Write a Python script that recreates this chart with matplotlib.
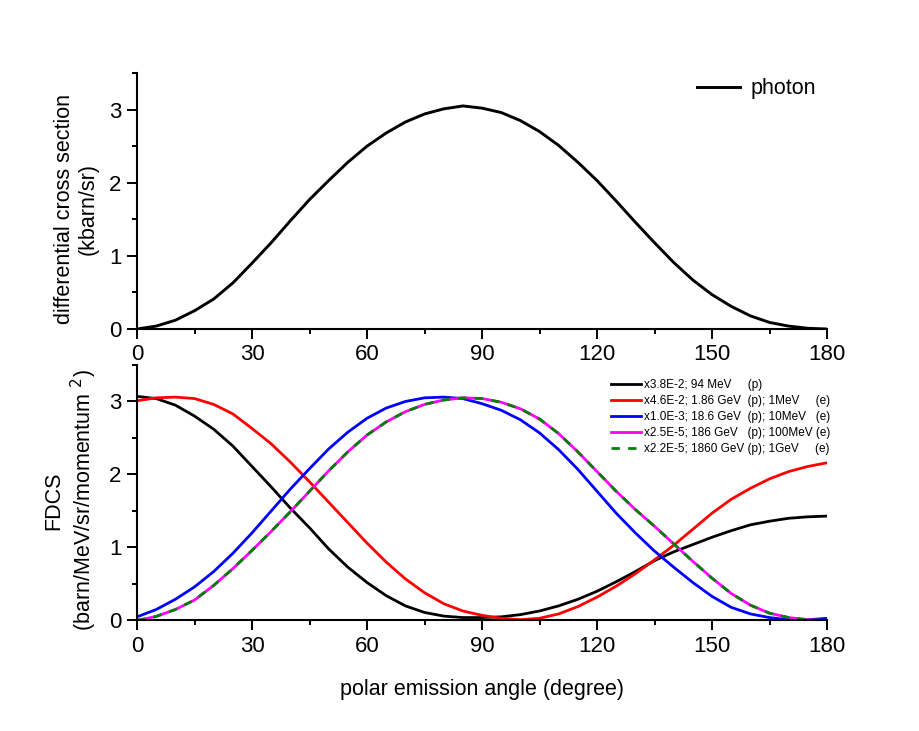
import matplotlib
matplotlib.use('Agg')
import matplotlib.pyplot as plt
from matplotlib.ticker import MultipleLocator

plt.rcParams['font.family'] = ['Liberation Sans', 'DejaVu Sans']

# polar emission angle (degree), values every 5 deg
angle = [0, 5, 10, 15, 20, 25, 30, 35, 40, 45, 50, 55, 60, 65, 70, 75, 80, 85, 90,
         95, 100, 105, 110, 115, 120, 125, 130, 135, 140, 145, 150, 155, 160, 165, 170, 175, 180]

# top panel: photon (kbarn/sr)
photon = [0, 0.04, 0.12, 0.25, 0.41, 0.63, 0.90, 1.18, 1.48, 1.77, 2.03, 2.28, 2.50,
          2.68, 2.83, 2.94, 3.01, 3.05, 3.02,
          2.96, 2.85, 2.70, 2.51, 2.28, 2.03, 1.75, 1.46, 1.18, 0.91, 0.67, 0.47,
          0.31, 0.18, 0.09, 0.04, 0.01, 0]

# bottom panel: scaled FDCS
fd_94mev = [3.07, 3.04, 2.95, 2.80, 2.62, 2.39, 2.11, 1.83, 1.54, 1.27, 0.98, 0.73, 0.52,
            0.34, 0.20, 0.11, 0.06, 0.04, 0.04,
            0.05, 0.08, 0.13, 0.20, 0.29, 0.40, 0.53, 0.67, 0.82, 0.94, 1.04, 1.14,
            1.23, 1.31, 1.36, 1.40, 1.42, 1.43]
fd_1mev = [3.01, 3.05, 3.06, 3.04, 2.96, 2.83, 2.63, 2.42, 2.17, 1.90, 1.62, 1.34, 1.06,
           0.80, 0.57, 0.38, 0.23, 0.13, 0.07,
           0.03, 0.01, 0.03, 0.09, 0.19, 0.32, 0.47, 0.64, 0.83, 1.03, 1.25, 1.47,
           1.66, 1.81, 1.94, 2.04, 2.11, 2.16]
fd_10mev = [0.05, 0.15, 0.29, 0.46, 0.67, 0.92, 1.20, 1.50, 1.80, 2.08, 2.35, 2.58, 2.77,
            2.91, 3.00, 3.05, 3.06, 3.04, 2.97,
            2.88, 2.75, 2.57, 2.34, 2.07, 1.77, 1.47, 1.20, 0.95, 0.73, 0.52, 0.33,
            0.18, 0.09, 0.04, 0.01, 0.01, 0.03]
fd_100mev = [0.0, 0.055, 0.15, 0.28, 0.48, 0.71, 0.96, 1.22, 1.49, 1.77, 2.05, 2.31, 2.54,
             2.72, 2.86, 2.96, 3.02, 3.05, 3.04,
             2.99, 2.90, 2.76, 2.56, 2.31, 2.04, 1.77, 1.52, 1.29, 1.05, 0.81, 0.58,
             0.37, 0.21, 0.10, 0.04, 0.01, 0.0]
fd_1gev = [0.0, 0.055, 0.15, 0.28, 0.48, 0.71, 0.96, 1.22, 1.49, 1.77, 2.05, 2.31, 2.54,
           2.72, 2.86, 2.96, 3.02, 3.05, 3.04,
           2.99, 2.90, 2.76, 2.56, 2.31, 2.04, 1.77, 1.52, 1.29, 1.05, 0.81, 0.58,
           0.37, 0.21, 0.10, 0.04, 0.01, 0.0]

labels = ['x3.8E-2; 94 MeV     (p)',
          'x4.6E-2; 1.86 GeV  (p); 1MeV     (e)',
          'x1.0E-3; 18.6 GeV  (p); 10MeV   (e)',
          'x2.5E-5; 186 GeV   (p); 100MeV (e)',
          'x2.2E-5; 1860 GeV (p); 1GeV     (e)']


def style(ax):
    ax.spines['top'].set_visible(False)
    ax.spines['right'].set_visible(False)
    for s in ['left', 'bottom']:
        ax.spines[s].set_linewidth(1.5)
    ax.set_xlim(0, 180)
    ax.set_ylim(0, 3.5)
    ax.xaxis.set_major_locator(MultipleLocator(30))
    ax.xaxis.set_minor_locator(MultipleLocator(15))
    ax.yaxis.set_major_locator(MultipleLocator(1))
    ax.yaxis.set_minor_locator(MultipleLocator(0.5))
    ax.tick_params(which='major', direction='out', length=7, width=1.4, labelsize=16, pad=4)
    ax.tick_params(which='minor', direction='out', length=3.5, width=1.4)


fig = plt.figure(figsize=(9.19, 7.31), dpi=100)
ax1 = fig.add_axes([0.1491, 0.5499, 0.7508, 0.3502])
ax2 = fig.add_axes([0.1491, 0.1512, 0.7508, 0.3495])

ax1.plot(angle, photon, color='black', lw=2.1, label='photon')
style(ax1)
ax1.set_ylabel('differential cross section\n(kbarn/sr)', fontsize=15.5)
ax1.yaxis.set_label_coords(-0.055, 0.47)
ax1.legend(loc='upper right', bbox_to_anchor=(1.012, 1.055), frameon=False, fontsize=15.5,
           handlelength=2.0, handletextpad=0.5)

ax2.plot(angle, fd_94mev, color='black', lw=2, label=labels[0])
ax2.plot(angle, fd_1mev, color='red', lw=2, label=labels[1])
ax2.plot(angle, fd_10mev, color='blue', lw=2, label=labels[2])
ax2.plot(angle, fd_100mev, color='magenta', lw=2, label=labels[3])
ax2.plot(angle, fd_1gev, color='green', lw=2, dashes=(3, 3), label=labels[4])
style(ax2)
ax2.set_ylabel('FDCS\n(barn/MeV/sr/momentum $^{2}$)', fontsize=15.5)
ax2.yaxis.set_label_coords(-0.055, 0.47)
ax2.set_xlabel('polar emission angle (degree)', fontsize=15.5, labelpad=16)
ax2.legend(loc='upper right', bbox_to_anchor=(1.02, 0.985), frameon=False, fontsize=8.5,
           handlelength=2.6, handletextpad=0.2, labelspacing=0.33)

plt.savefig('out.png', dpi=100)
